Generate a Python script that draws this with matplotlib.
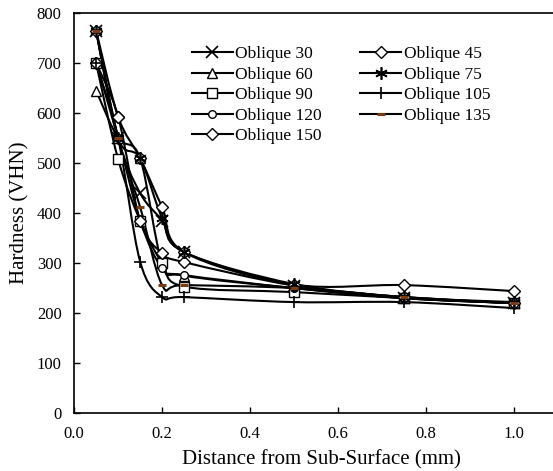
import matplotlib
matplotlib.use('Agg')
import matplotlib.pyplot as plt
from matplotlib.path import Path
from matplotlib.patches import PathPatch
from matplotlib.lines import Line2D
import numpy as np

plt.rcParams['font.family'] = 'Liberation Serif'
plt.rcParams['font.size'] = 12
plt.rcParams['mathtext.default'] = 'regular'

distance = [0.05, 0.1, 0.15, 0.2, 0.25, 0.5, 0.75, 1.0]

oblique_30 = [765, 550, 440, 385, 322, 255, 230, 220]
oblique_45 = [765, 593, 510, 412, 322, 257, 256, 244]
oblique_60 = [645, 550, 510, 300, 275, 250, 230, 220]
oblique_75 = [765, 550, 510, 390, 322, 258, 232, 222]
oblique_90 = [700, 508, 385, 300, 253, 242, 230, 220]
oblique_105 = [700, 550, 303, 232, 232, 222, 222, 210]
oblique_120 = [700, 550, 385, 290, 276, 250, 230, 220]
oblique_135 = [765, 550, 412, 256, 256, 250, 232, 220]
oblique_150 = [700, 593, 385, 320, 302, 255, 232, 220]

star = (6, 2, 0)
series = [
    ('Oblique 30', oblique_30, 'x'),
    ('Oblique 60', oblique_60, '^'),
    ('Oblique 90', oblique_90, 's'),
    ('Oblique 120', oblique_120, 'o'),
    ('Oblique 150', oblique_150, 'D'),
    ('Oblique 45', oblique_45, 'D'),
    ('Oblique 75', oblique_75, star),
    ('Oblique 105', oblique_105, '+'),
    ('Oblique 135', oblique_135, '_'),
]


def smooth_path(x, y):
    # excel style smoothed line: cubic bezier through the points
    pts = np.column_stack([x, y]).astype(float)
    n = len(pts)
    verts = [pts[0]]
    codes = [Path.MOVETO]
    for i in range(n - 1):
        p0 = pts[i - 1] if i > 0 else pts[i]
        p1 = pts[i]
        p2 = pts[i + 1]
        p3 = pts[i + 2] if i + 2 < n else pts[i + 1]
        c1 = p1 + (p2 - p0) / 6
        c2 = p2 - (p3 - p1) / 6
        verts += [c1, c2, p2]
        codes += [Path.CURVE4] * 3
    return Path(verts, codes)


def marker_style(mk):
    if mk == '_':
        return dict(ms=6, mec='#7a3b12', mew=2.2, mfc='white')
    if mk in ('x', '+'):
        return dict(ms=8, mec='black', mew=1.2, mfc='white')
    if mk == star:
        return dict(ms=9, mec='black', mew=1.2, mfc='white')
    if mk == 'o':
        return dict(ms=5.5, mec='black', mew=1.0, mfc='white')
    if mk == 'D':
        return dict(ms=6, mec='black', mew=1.0, mfc='white')
    return dict(ms=7.5, mec='black', mew=1.0, mfc='white')


fig = plt.figure(figsize=(5.53, 4.71), dpi=100)
ax = fig.add_axes([0.134, 0.123, 0.866, 0.849])

handles = []
for name, vals, mk in series:
    patch = PathPatch(smooth_path(distance, vals), facecolor='none',
                      edgecolor='black', lw=1.5, zorder=2)
    ax.add_patch(patch)
    st = marker_style(mk)
    ax.plot(distance, vals, linestyle='none', marker=mk, zorder=3, **st)
    handles.append(Line2D([], [], color='black', lw=1.5, marker=mk, label=name, **st))

ax.set_xlim(0, 1.088)
ax.set_ylim(0, 800)
ax.set_xticks([0.0, 0.2, 0.4, 0.6, 0.8, 1.0])
ax.set_xticklabels(['0.0', '0.2', '0.4', '0.6', '0.8', '1.0'])
ax.set_yticks(range(0, 801, 100))
ax.tick_params(direction='in', length=4, width=1, labelsize=12)
ax.tick_params(axis='x', pad=9)
ax.tick_params(axis='y', pad=9)
ax.spines['right'].set_visible(False)
for s in ['left', 'bottom', 'top']:
    ax.spines[s].set_linewidth(1.2)

ax.set_xlabel('Distance from Sub-Surface (mm)', fontsize=15)
ax.set_ylabel('Hardness (VHN)', fontsize=15)
ax.xaxis.set_label_coords((321 - 74) / 479, -0.092)
ax.yaxis.set_label_coords(-0.094, 0.5)

ax.legend(handles=handles, ncol=2, frameon=False, loc='upper left',
          bbox_to_anchor=(192 / 553, 1 - 46 / 471), bbox_transform=fig.transFigure,
          borderpad=0, borderaxespad=0, handlelength=2.35, handletextpad=0.15,
          columnspacing=2.2, labelspacing=0.25, fontsize=12.5)

fig.savefig('out.png', dpi=100)
